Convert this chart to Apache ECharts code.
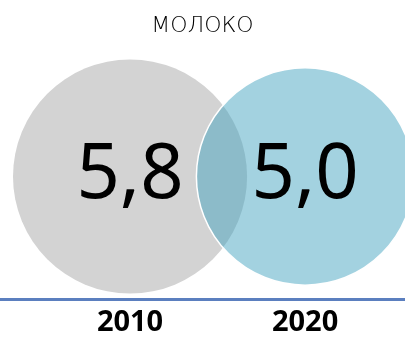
<!DOCTYPE html>
<html>
<head>
<meta charset="utf-8">
<script src="https://cdn.jsdelivr.net/npm/echarts@6/dist/echarts.min.js"></script>
<style>
  html, body { margin: 0; padding: 0; background: #fff; }
  #chart { width: 405px; height: 337px; }
</style>
</head>
<body>
<div id="chart"></div>
<script>
// Milk consumption bubbles, one per year
const years = ['2010', '2020'];
const values = [5.8, 5.0];
const fills = ['#d3d3d3', 'rgba(63,161,190,0.48)'];
const borders = ['transparent', '#ffffff'];

// bubble area proportional to value
const sizeFor = v => 97.2 * Math.sqrt(v);

const chart = echarts.init(document.getElementById('chart'), null, { renderer: 'canvas' });

chart.setOption({
  animation: false,
  title: {
    text: 'МОЛОКО',
    left: 'center',
    top: 10,
    textStyle: {
      fontFamily: 'DejaVu Sans',
      fontWeight: 200,
      fontSize: 22,
      color: '#000'
    }
  },
  grid: { left: 0, right: 0, top: 54, bottom: 37 },
  xAxis: {
    type: 'value',
    min: -0.743,
    max: 1.571,
    splitLine: { show: false },
    axisTick: { show: false },
    axisLine: { show: true, onZero: false, lineStyle: { color: '#5b7fbf', width: 3 } },
    axisLabel: {
      customValues: [0, 1],
      formatter: v => years[Math.round(v)],
      margin: 9,
      fontFamily: 'Open Sans',
      fontWeight: 'bold',
      fontSize: 29,
      color: '#000'
    }
  },
  yAxis: {
    type: 'value',
    min: 0,
    max: 2,
    show: false
  },
  series: [{
    type: 'scatter',
    data: values.map((v, i) => ({
      value: [i, 1, v],
      symbolSize: sizeFor(v),
      itemStyle: { color: fills[i], borderColor: borders[i], borderWidth: 1.5, opacity: 1 }
    })),
    label: {
      show: true,
      position: 'inside',
      formatter: p => String(p.value[2].toFixed(1)).replace('.', ','),
      fontFamily: 'Noto Sans',
      fontSize: 76,
      color: '#000'
    },
    emphasis: { disabled: true }
  }]
});
</script>
</body>
</html>
